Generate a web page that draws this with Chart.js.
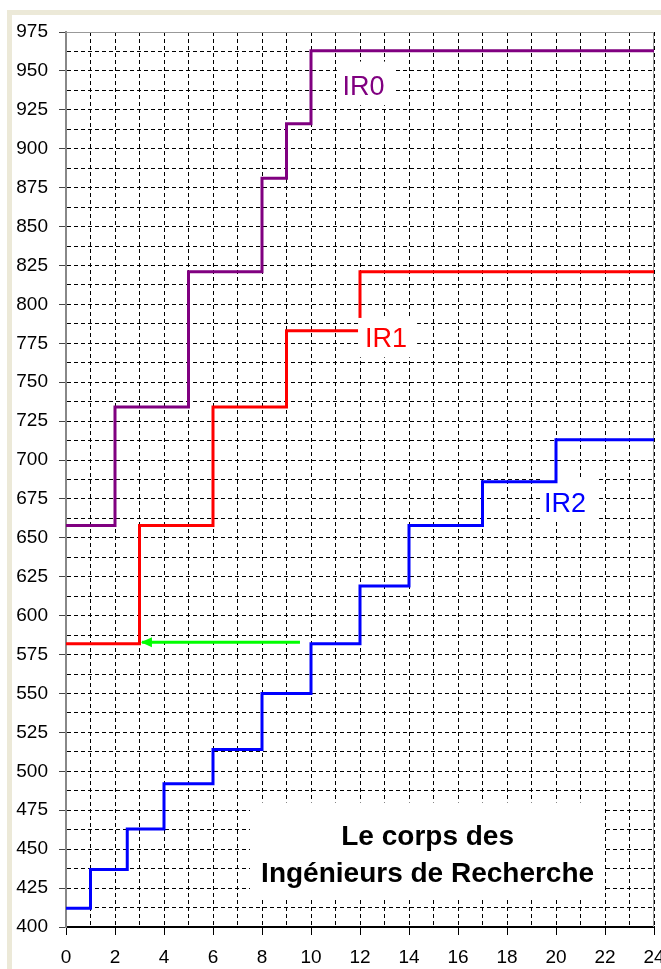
<!DOCTYPE html>
<html lang="fr">
<head>
  <meta charset="UTF-8">
  <title>Le corps des Ingénieurs de Recherche</title>
  <script src="https://cdn.jsdelivr.net/npm/chart.js"></script>
  <style>
    html, body { margin: 0; padding: 0; background: #fff; overflow: hidden; }
    #wrap { position: relative; width: 661px; height: 969px; overflow: hidden; }
    .frame { position: absolute; background: #ece9d8; }
    #frameTop { left: 7px; top: 10px; width: 654px; height: 5px; }
    #frameLeft { left: 7px; top: 10px; width: 5px; height: 959px; }
    canvas { position: absolute; left: 0; top: 0; }
  </style>
</head>
<body>
  <div id="wrap">
    <div class="frame" id="frameTop"></div>
    <div class="frame" id="frameLeft"></div>
    <canvas id="chart" width="680" height="969"></canvas>
  </div>

  <script>
    // years in the grade -> indice majoré
    const ir0Years = [0, 2, 5, 8, 9, 10, 24];
    const ir0Index = [658, 734, 821, 881, 916, 963, 963];
    const ir1Years = [0, 3, 6, 9, 12, 24];
    const ir1Index = [582, 658, 734, 783, 821, 821];
    const ir2Years = [0, 1, 2.5, 4, 6, 8, 10, 12, 14, 17, 20, 24];
    const ir2Index = [412, 437, 463, 492, 514, 550, 582, 619, 658, 686, 713, 713];
    // green arrow (IR2 -> IR1 passage)
    const arrowYears = [9.55, 3.1];
    const arrowIndex = [583, 583];

    const xTickLabels = [0, 2, 4, 6, 8, 10, 12, 14, 16, 18, 20, 22, 24];
    const yTickLabels = [400, 425, 450, 475, 500, 525, 550, 575, 600, 625, 650, 675, 700,
                         725, 750, 775, 800, 825, 850, 875, 900, 925, 950, 975];
    const seriesNames = ['IR0', 'IR1', 'IR2'];
    const titleLines = ['Le corps des', 'Ingénieurs de Recherche'];

    const FONT = '"Liberation Sans", Arial, sans-serif';
    const colors = ['#800080', '#ff0000', '#0000ff'];

    const toPoints = (xs, ys) => xs.map((x, i) => ({x: x, y: ys[i]}));

    // text boxes, in data units
    const boxes = [
      {text: [seriesNames[0]], color: colors[0], font: '27px ' + FONT,
       box: [11.06, 13.35, 928, 956], at: [12.14], base: [934.5], top: false},
      {text: [seriesNames[1]], color: colors[1], font: '27px ' + FONT,
       box: [11.92, 14.33, 766, 791.3], at: [13.06], base: [772.6], top: true},
      {text: [seriesNames[2]], color: colors[2], font: '27px ' + FONT,
       box: [19.35, 21.67, 661.5, 688], at: [20.37], base: [666.6], top: false},
      {text: titleLines, color: '#000', font: 'bold 28px ' + FONT,
       box: [7.51, 21.96, 418, 480], at: [14.76, 14.76], base: [452.7, 429.1], top: false}
    ];

    function drawBoxes(chart, onTop) {
      const ctx = chart.ctx, xs = chart.scales.x, ys = chart.scales.y;
      boxes.filter(b => b.top === onTop).forEach(b => {
        const x1 = xs.getPixelForValue(b.box[0]), x2 = xs.getPixelForValue(b.box[1]);
        const y1 = ys.getPixelForValue(b.box[3]), y2 = ys.getPixelForValue(b.box[2]);
        ctx.save();
        ctx.fillStyle = '#fff';
        ctx.fillRect(x1, y1, x2 - x1, y2 - y1);
        ctx.font = b.font;
        ctx.fillStyle = b.color;
        ctx.textAlign = 'center';
        ctx.textBaseline = 'alphabetic';
        b.text.forEach((t, i) => {
          ctx.fillText(t, xs.getPixelForValue(b.at[i]), ys.getPixelForValue(b.base[i]));
        });
        ctx.restore();
      });
    }

    const extras = {
      id: 'extras',
      beforeDatasetsDraw(chart) {
        const {ctx, chartArea: a} = chart;
        ctx.save();
        ctx.strokeStyle = '#999';
        ctx.lineWidth = 1;
        ctx.beginPath();
        ctx.moveTo(a.left, a.top + 0.5);
        ctx.lineTo(a.right - 0.5, a.top + 0.5);
        ctx.lineTo(a.right - 0.5, a.bottom);
        ctx.stroke();
        ctx.restore();
        drawBoxes(chart, false);
      },
      afterDatasetsDraw(chart) {
        drawBoxes(chart, true);
        // arrow head on the green line
        const pts = chart.getDatasetMeta(3).data;
        const tip = pts[pts.length - 1];
        const ctx = chart.ctx;
        ctx.save();
        ctx.fillStyle = '#00ff00';
        ctx.beginPath();
        ctx.moveTo(tip.x - 1, tip.y);
        ctx.lineTo(tip.x + 10, tip.y - 5);
        ctx.lineTo(tip.x + 10, tip.y + 5);
        ctx.closePath();
        ctx.fill();
        ctx.restore();
      }
    };

    const lineStyle = {
      borderWidth: 3,
      pointRadius: 0,
      stepped: true,
      fill: false,
      borderCapStyle: 'butt',
      borderJoinStyle: 'miter'
    };

    new Chart(document.getElementById('chart'), {
      type: 'line',
      data: {
        datasets: [
          {label: seriesNames[0], data: toPoints(ir0Years, ir0Index), borderColor: colors[0], ...lineStyle},
          {label: seriesNames[1], data: toPoints(ir1Years, ir1Index), borderColor: colors[1], ...lineStyle},
          {label: seriesNames[2], data: toPoints(ir2Years, ir2Index), borderColor: colors[2], ...lineStyle},
          {label: 'arrow', data: toPoints(arrowYears, arrowIndex), borderColor: '#00ff00',
           borderWidth: 3, pointRadius: 0, fill: false, borderCapStyle: 'butt'}
        ]
      },
      options: {
        responsive: false,
        devicePixelRatio: 1,
        animation: false,
        layout: {padding: {top: 32, right: 26, left: 0, bottom: 0}},
        plugins: {legend: {display: false}, tooltip: {enabled: false}},
        scales: {
          x: {
            type: 'linear',
            min: 0,
            max: 24,
            afterFit: s => { s.height = 42; },
            ticks: {
              stepSize: 1,
              autoSkip: false,
              maxRotation: 0,
              padding: 11,
              color: '#000',
              font: {family: FONT, size: 19},
              callback: v => xTickLabels.includes(v) ? String(v) : ''
            },
            grid: {
              color: '#000',
              lineWidth: 1,
              tickLength: 8,
              tickColor: c => xTickLabels.includes(c.tick.value) ? '#000' : 'transparent'
            },
            border: {color: '#000', width: 2, dash: [4, 3]}
          },
          y: {
            min: 400,
            max: 975,
            afterFit: s => { s.width = 66; },
            ticks: {
              stepSize: 12.5,
              autoSkip: false,
              padding: 11,
              color: '#000',
              font: {family: FONT, size: 19},
              callback: v => yTickLabels.includes(v) ? String(v) : ''
            },
            grid: {
              color: '#000',
              lineWidth: 1,
              tickLength: 7,
              tickColor: c => yTickLabels.includes(c.tick.value) ? '#444' : 'transparent'
            },
            border: {color: '#888', width: 2, dash: [4, 3]}
          }
        }
      },
      plugins: [extras]
    });
  </script>
</body>
</html>
